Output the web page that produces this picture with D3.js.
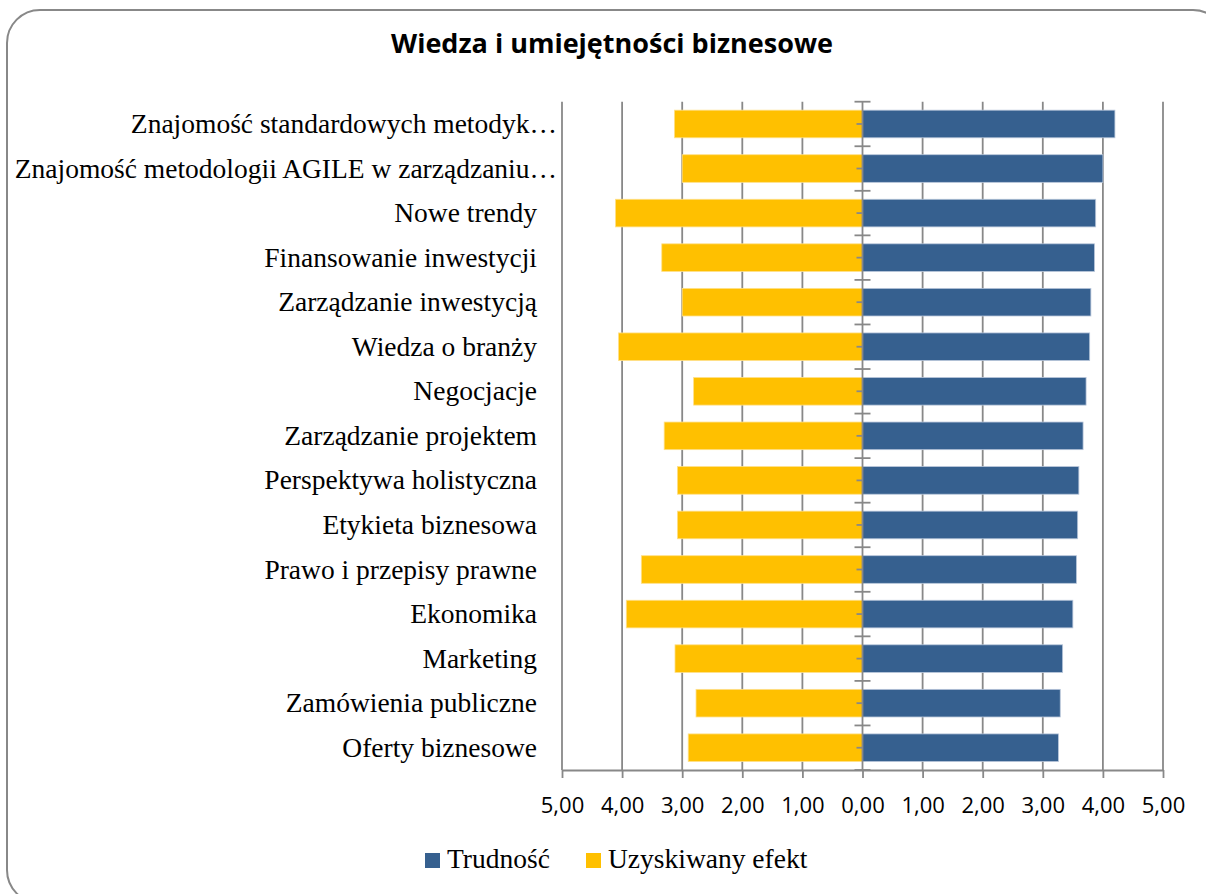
<!DOCTYPE html>
<html>
<head>
<meta charset="utf-8">
<script src="https://cdn.jsdelivr.net/npm/d3@7"></script>
<style>
  body { margin: 0; background: #fff; }
  svg { display: block; }
</style>
</head>
<body>
<svg width="1206" height="894"></svg>
<script>
// categories, top to bottom
var categories = [
  "Znajomość standardowych metodyk…",
  "Znajomość metodologii AGILE w zarządzaniu…",
  "Nowe trendy",
  "Finansowanie inwestycji",
  "Zarządzanie inwestycją",
  "Wiedza o branży",
  "Negocjacje",
  "Zarządzanie projektem",
  "Perspektywa holistyczna",
  "Etykieta biznesowa",
  "Prawo i przepisy prawne",
  "Ekonomika",
  "Marketing",
  "Zamówienia publiczne",
  "Oferty biznesowe"
];
var trudnosc = [4.20, 4.00, 3.88, 3.86, 3.80, 3.78, 3.72, 3.67, 3.60, 3.58, 3.56, 3.50, 3.33, 3.29, 3.26];
var efekt    = [3.13, 3.00, 4.11, 3.34, 3.00, 4.06, 2.81, 3.30, 3.08, 3.08, 3.68, 3.93, 3.12, 2.77, 2.90];
var xTicks = [-5, -4, -3, -2, -1, 0, 1, 2, 3, 4, 5];
var seriesNames = ["Trudność", "Uzyskiwany efekt"];
var seriesColors = ["#36608f", "#ffc000"];

var svg = d3.select("svg");
var grey = "#888888";

// outer chart frame (runs past the right and bottom edges)
svg.append("rect")
  .attr("x", 7).attr("y", 10)
  .attr("width", 1219).attr("height", 893)
  .attr("rx", 33).attr("ry", 33)
  .attr("fill", "#fff")
  .attr("stroke", grey)
  .attr("stroke-width", 2);

var plot = { left: 562, right: 1163, top: 101.7, bottom: 770 };

var x = d3.scaleLinear().domain([-5, 5]).range([plot.left, plot.right]);
var y = d3.scaleBand().domain(categories)
  .range([plot.top, plot.bottom])
  .paddingInner(0.38).paddingOuter(0.19);

var fmt = function(v) { return Math.abs(v).toFixed(2).replace(".", ","); };

// gridlines
svg.append("g").selectAll("line")
  .data(xTicks.filter(function(t){ return t !== 0; }))
  .enter().append("line")
  .attr("x1", function(d){ return x(d); })
  .attr("x2", function(d){ return x(d); })
  .attr("y1", plot.top).attr("y2", plot.bottom)
  .attr("stroke", grey).attr("stroke-width", 1.8);

// bars
svg.append("g").selectAll("rect")
  .data(categories)
  .enter().append("rect")
  .attr("x", function(d, i){ return x(-efekt[i]); })
  .attr("y", function(d){ return y(d); })
  .attr("width", function(d, i){ return x(0) - x(-efekt[i]); })
  .attr("height", y.bandwidth())
  .attr("fill", seriesColors[1])
  .attr("stroke", "#ffe08a").attr("stroke-width", 0.8);

svg.append("g").selectAll("rect")
  .data(categories)
  .enter().append("rect")
  .attr("x", x(0))
  .attr("y", function(d){ return y(d); })
  .attr("width", function(d, i){ return x(trudnosc[i]) - x(0); })
  .attr("height", y.bandwidth())
  .attr("fill", seriesColors[0])
  .attr("stroke", "#b8c6da").attr("stroke-width", 0.8);

// bottom axis
var xAxis = d3.axisBottom(x).tickValues(xTicks).tickFormat(fmt).tickSize(8).tickSizeOuter(0);
var gx = svg.append("g").attr("transform", "translate(0," + plot.bottom + ")").call(xAxis);
gx.select(".domain").attr("stroke", grey).attr("stroke-width", 1.8);
gx.selectAll(".tick line").attr("stroke", grey).attr("stroke-width", 1.8);
gx.selectAll(".tick text")
  .attr("y", 43).attr("dy", 0)
  .attr("fill", "#000")
  .style("font-family", "'Open Sans', sans-serif")
  .style("font-size", "22px");

// vertical axis at zero with crossing ticks at band edges and short ticks at centres
var edges = categories.map(function(d){ return y(d) - y.step() * y.paddingInner() / 2; });
edges.push(plot.bottom);
var ga = svg.append("g").attr("stroke", grey).attr("stroke-width", 1.8);
ga.append("line").attr("x1", x(0)).attr("x2", x(0)).attr("y1", plot.top).attr("y2", plot.bottom);
ga.selectAll("line.major").data(edges).enter().append("line").attr("class", "major")
  .attr("x1", x(0) - 8).attr("x2", x(0) + 8)
  .attr("y1", function(d){ return d; }).attr("y2", function(d){ return d; });
ga.selectAll("line.minor").data(categories).enter().append("line").attr("class", "minor")
  .attr("x1", x(0) - 6).attr("x2", x(0))
  .attr("y1", function(d){ return y(d) + y.bandwidth() / 2; })
  .attr("y2", function(d){ return y(d) + y.bandwidth() / 2; });

// category labels
svg.append("g").selectAll("text")
  .data(categories)
  .enter().append("text")
  .attr("x", function(d){ return d.slice(-1) === "…" ? plot.left - 5 : plot.left - 25; })
  .attr("y", function(d){ return y(d) + y.bandwidth() / 2 + 9; })
  .attr("text-anchor", "end")
  .style("font-family", "'Liberation Serif', serif")
  .style("font-size", "27.5px")
  .text(function(d){ return d; });

// title
svg.append("text")
  .attr("x", 612).attr("y", 53)
  .attr("text-anchor", "middle")
  .style("font-family", "'Open Sans', sans-serif")
  .style("font-weight", "bold")
  .style("font-size", "27px")
  .text("Wiedza i umiejętności biznesowe");

// legend
var legendX = [425, 586];
var lg = svg.append("g").selectAll("g").data(seriesNames).enter().append("g")
  .attr("transform", function(d, i){ return "translate(" + legendX[i] + ",853)"; });
lg.append("rect").attr("width", 15).attr("height", 15)
  .attr("fill", function(d, i){ return seriesColors[i]; });
lg.append("text").attr("x", 22).attr("y", 15)
  .style("font-family", "'Liberation Serif', serif")
  .style("font-size", "27.5px")
  .text(function(d){ return d; });
</script>
</body>
</html>
